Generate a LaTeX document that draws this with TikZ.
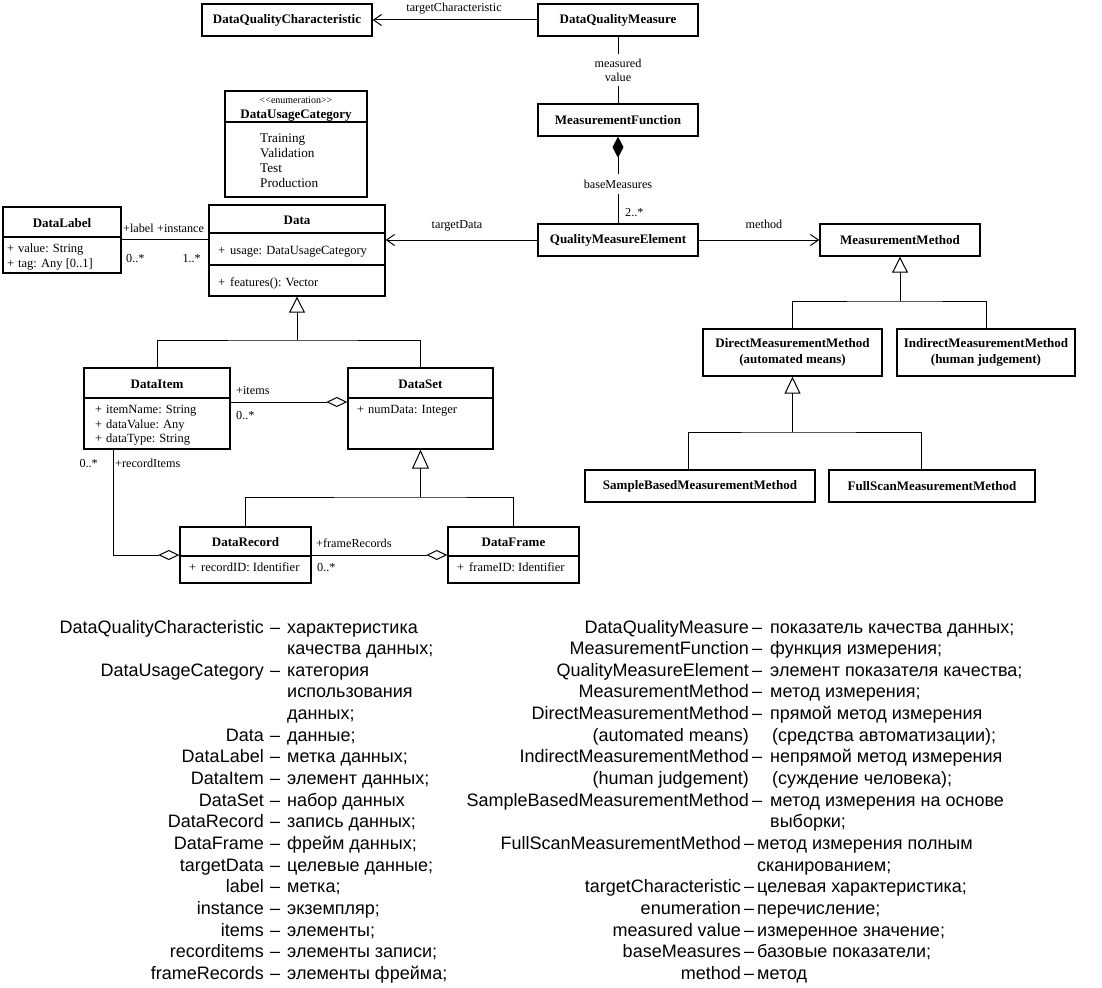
\documentclass[tikz,border=0pt]{standalone}
\usepackage{fontspec}
\setmainfont{Liberation Serif}
\newfontfamily\legfont{Liberation Sans}
\usetikzlibrary{arrows.meta}
\begin{document}
\begin{tikzpicture}[x=1pt,y=-1pt,
  box/.style={draw, line width=1.4pt, inner sep=0pt},
  cls/.style={font=\fontsize{13}{16}\selectfont\bfseries},
  attr/.style={font=\fontsize{12.5}{15}\selectfont, anchor=base west, inner sep=0pt},
  ttl/.style={font=\fontsize{13}{16}\selectfont\bfseries, anchor=base, inner sep=0pt},
  lab/.style={font=\fontsize{12.2}{14}\selectfont, inner sep=0pt},
  leg/.style={font=\legfont\fontsize{18}{21}\selectfont, inner sep=0pt},
  conn/.style={line width=1pt},
  divl/.style={line width=1.2pt},
  opena/.style={-{Straight Barb[length=8pt,width=11pt]}},
  gentip/.style={-{Triangle[open,length=16pt,width=16pt]}},
  aggtip/.style={-{Diamond[open,length=21pt,width=10pt]}}
]
\fill[white] (0,0) rectangle (1102,987);
\useasboundingbox (0,0) rectangle (1102,987);

% ---------- single-compartment classes ----------
\node[box, cls, minimum width=170pt, minimum height=32pt] (dqc) at (287,20) {DataQualityCharacteristic};
\node[box, cls, minimum width=160pt, minimum height=32pt] (dqm) at (618,20) {DataQualityMeasure};
\node[box, cls, minimum width=160pt, minimum height=32pt] (mf) at (618,120) {MeasurementFunction};
\node[box, cls, minimum width=160pt, minimum height=32pt] (qme) at (618,240) {QualityMeasureElement};
\node[box, cls, minimum width=160pt, minimum height=32pt] (mm) at (900,240) {MeasurementMethod};
\node[box, cls, align=center, minimum width=179pt, minimum height=47pt] (dmm) at (792.5,352.5) {DirectMeasurementMethod\\(automated means)};
\node[box, cls, align=center, minimum width=178pt, minimum height=47pt] (imm) at (986,352.5) {IndirectMeasurementMethod\\(human judgement)};
\node[box, cls, minimum width=230pt, minimum height=32pt] (sbm) at (700,486) {SampleBasedMeasurementMethod};
\node[box, cls, minimum width=206pt, minimum height=32pt] (fsm) at (932,486) {FullScanMeasurementMethod};

% ---------- DataUsageCategory ----------
\node[box, minimum width=142pt, minimum height=106pt] (duc) at (296,144) {};
\draw[divl] (225,122) -- (367,122);
\node[font=\fontsize{10}{12}\selectfont, anchor=base, inner sep=0pt] (ducst) at (296,103.5) {<{}<enumeration>{}>};
\node[ttl] (duct) at (296,118.5) {DataUsageCategory};
\node[attr, font=\fontsize{13.2}{15}\selectfont] (du1) at (260,142.5) {Training};
\node[attr, font=\fontsize{13.2}{15}\selectfont] (du2) at (260,157.5) {Validation};
\node[attr, font=\fontsize{13.2}{15}\selectfont] (du3) at (260,172.5) {Test};
\node[attr, font=\fontsize{13.2}{15}\selectfont] (du4) at (260,187.5) {Production};

% ---------- Data ----------
\node[box, minimum width=176pt, minimum height=91pt] (data) at (297,250.5) {};
\draw[divl] (209,233) -- (385,233);
\draw[divl] (209,265) -- (385,265);
\node[ttl] (datat) at (297,224.5) {Data};
\node[attr] (data1) at (218,254) {\makebox[12pt][l]{+}usage: DataUsageCategory};
\node[attr] (data2) at (218,286) {\makebox[12pt][l]{+}features(): Vector};

% ---------- DataLabel ----------
\node[box, minimum width=118pt, minimum height=66pt] (dl) at (62,240) {};
\draw[divl] (3,237) -- (121,237);
\node[ttl] (dlt) at (62,227) {DataLabel};
\node[attr] (dl1) at (7,252.5) {\makebox[11pt][l]{+}value: String};
\node[attr] (dl2) at (7,267.5) {\makebox[11pt][l]{+}tag: Any [0..1]};

% ---------- DataItem ----------
\node[box, minimum width=146pt, minimum height=81pt] (di) at (157,408.5) {};
\draw[divl] (84,398) -- (230,398);
\node[ttl] (dit) at (157,388) {DataItem};
\node[attr] (di1) at (95,413.5) {\makebox[11pt][l]{+}itemName: String};
\node[attr] (di2) at (95,428.5) {\makebox[11pt][l]{+}dataValue: Any};
\node[attr] (di3) at (95,442.5) {\makebox[11pt][l]{+}dataType: String};

% ---------- DataSet ----------
\node[box, minimum width=145pt, minimum height=81pt] (ds) at (420.5,408.5) {};
\draw[divl] (348,398) -- (493,398);
\node[ttl] (dst) at (420.5,388) {DataSet};
\node[attr] (ds1) at (357,413.5) {\makebox[11pt][l]{+}numData: Integer};

% ---------- DataRecord / DataFrame ----------
\node[box, minimum width=131pt, minimum height=56pt] (dr) at (245.5,555) {};
\draw[divl] (180,556) -- (311,556);
\node[ttl] (drt) at (245.5,546) {DataRecord};
\node[attr] (dr1) at (189,571.5) {\makebox[12pt][l]{+}recordID: Identifier};
\node[box, minimum width=131pt, minimum height=56pt] (df) at (513.5,555) {};
\draw[divl] (448,556) -- (579,556);
\node[ttl] (dft) at (513.5,546) {DataFrame};
\node[attr] (df1) at (457,571.5) {\makebox[12pt][l]{+}frameID: Identifier};

% ---------- connectors ----------
\draw[conn, opena] (dqm.west) -- (dqc.east);
\node[lab, anchor=base] (ltc) at (454,12) {targetCharacteristic};

\draw[conn] (dqm.south) -- (mf.north)
  node[midway, fill=white, lab, align=center, inner xsep=2pt, inner ysep=5pt] (lmv) {measured\\value};

\draw[conn, {Diamond[length=21pt,width=11pt]}-] (mf.south) -- (qme.north)
  node[pos=0.545, fill=white, lab, inner xsep=2pt, inner ysep=6pt] (lbm) {baseMeasures};
\node[lab, anchor=base west] (lmul) at (625,216) {2..*};

\draw[conn, opena] (qme.west) -- (qme.west -| data.east);
\node[lab, anchor=base] (ltd) at (457,228) {targetData};
\draw[conn, opena] (qme.east) -- (mm.west);
\node[lab, anchor=base] (lme) at (764,228) {method};

\coordinate (yl) at (0,239);
\draw[conn] (dl.east |- yl) -- (data.west |- yl);
\node[lab, anchor=base west] (llab) at (123,232) {+label};
\node[lab, anchor=base west] (linst) at (157,232) {+instance};
\node[lab, anchor=base west] (lm1) at (126,262) {0..*};
\node[lab, anchor=base east] (lm2) at (201,262) {1..*};

% generalizations
\coordinate (g1) at (900,301);
\draw[conn] (dmm.north) |- (g1) -| (imm.north);
\draw[conn, gentip] (g1) -- (mm.south);

\coordinate (g2) at (792.5,432);
\draw[conn] ([xshift=-12pt]sbm.north) |- (g2) -| ([xshift=-11pt]fsm.north);
\draw[line width=1.8pt, -{Triangle[open,length=17pt,width=16pt,line width=1pt]}] (g2) -- (dmm.south);

\coordinate (g3) at (297,340);
\draw[conn] (di.north) |- (g3) -| (ds.north);
\draw[conn, gentip] (g3) -- (data.south);

\coordinate (g4) at (420.5,497);
\draw[conn] (dr.north) |- (g4) -| (df.north);
\draw[conn, -{Triangle[open,length=19pt,width=17pt]}] (g4) -- (ds.south);

% aggregations
\coordinate (ya) at (0,402);
\draw[conn, aggtip] (di.east |- ya) -- (ds.west |- ya);
\node[lab, anchor=base west] (litems) at (236,394) {+items};
\node[lab, anchor=base west] (lm3) at (236,419) {0..*};

\draw[conn, aggtip] ([xshift=-44pt]di.south) |- (dr.west);
\node[lab, anchor=base east] (lm4) at (98,467) {0..*};
\node[lab, anchor=base west] (lri) at (115,467) {+recordItems};

\draw[conn, aggtip] (dr.east) -- (df.west);
\node[lab, anchor=base west] (lfr) at (316,547) {+frameRecords};
\node[lab, anchor=base west] (lm5) at (317,571) {0..*};

% ---------- legend ----------
\foreach \r/\en/\ru in {1/DataQualityCharacteristic/характеристика,
  3/DataUsageCategory/категория, 6/Data/данные;, 7/DataLabel/метка данных;,
  8/DataItem/элемент данных;, 9/DataSet/набор данных, 10/DataRecord/запись данных;,
  11/DataFrame/фрейм данных;, 12/targetData/целевые данные;, 13/label/метка;,
  14/instance/экземпляр;, 15/items/элементы;, 16/recorditems/элементы записи;,
  17/frameRecords/элементы фрейма;}{
  \node[leg, anchor=base east] (Le\r) at (264,{633+21.65*(\r-1)}) {\en};
  \node[leg, anchor=base west] (Ld\r) at (270,{633+21.65*(\r-1)}) {–};
  \node[leg, anchor=base west] (Lr\r) at (287,{633+21.65*(\r-1)}) {\ru};
}
\foreach \r/\ru in {2/качества данных;, 4/использования, 5/данных;}{
  \node[leg, anchor=base west] (Lc\r) at (287,{633+21.65*(\r-1)}) {\ru};
}
\foreach \r/\xe/\xr/\en/\ru in {1/749/770/DataQualityMeasure/показатель качества данных;,
  2/749/770/MeasurementFunction/функция измерения;,
  3/749/770/QualityMeasureElement/элемент показателя качества;,
  4/749/770/MeasurementMethod/метод измерения;,
  5/749/770/DirectMeasurementMethod/прямой метод измерения,
  7/749/770/IndirectMeasurementMethod/непрямой метод измерения,
  9/749/770/SampleBasedMeasurementMethod/метод измерения на основе,
  11/741/757/FullScanMeasurementMethod/метод измерения полным,
  13/741/757/targetCharacteristic/целевая характеристика;,
  14/741/757/enumeration/перечисление;,
  15/741/757/measured value/измеренное значение;,
  16/741/757/baseMeasures/базовые показатели;,
  17/741/757/method/метод}{
  \node[leg, anchor=base east] (Re\r) at (\xe,{633+21.65*(\r-1)}) {\en};
  \node[leg, anchor=base west] (Rd\r) at ({\xe+3},{633+21.65*(\r-1)}) {–};
  \node[leg, anchor=base west] (Rr\r) at (\xr,{633+21.65*(\r-1)}) {\ru};
}
\node[leg, anchor=base east] (Re6) at (749,{633+21.65*5}) {(automated means)};
\node[leg, anchor=base west] (Rr6) at (772,{633+21.65*5}) {(средства автоматизации);};
\node[leg, anchor=base east] (Re8) at (749,{633+21.65*7}) {(human judgement)};
\node[leg, anchor=base west] (Rr8) at (772,{633+21.65*7}) {(суждение человека);};
\node[leg, anchor=base west] (Rr10) at (770,{633+21.65*9}) {выборки;};
\node[leg, anchor=base west] (Rr12) at (757,{633+21.65*11}) {сканированием;};
\end{tikzpicture}
\end{document}
